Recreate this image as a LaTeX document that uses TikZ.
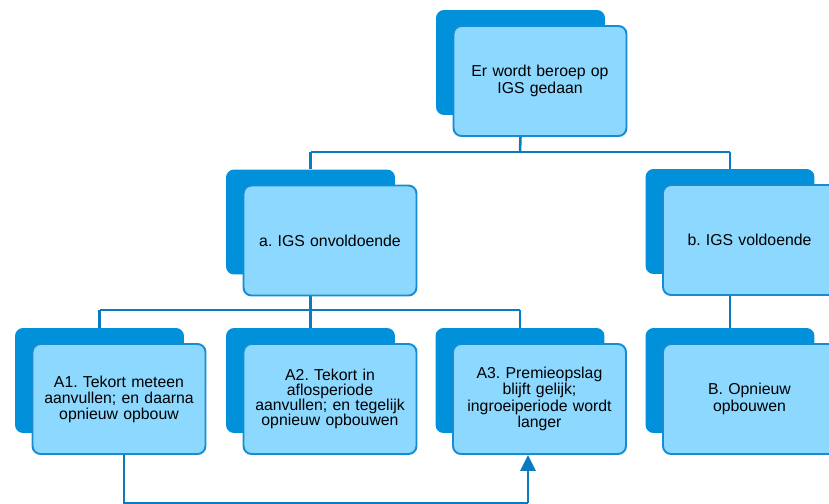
\documentclass[tikz,border=0pt]{standalone}
\usepackage{fontspec}
\setmainfont{Liberation Sans}
\frenchspacing
\usetikzlibrary{calc,positioning,backgrounds,arrows.meta}
\definecolor{backblue}{RGB}{0,145,218}
\definecolor{frontblue}{RGB}{140,216,255}
\definecolor{edgeblue}{RGB}{22,140,212}
\definecolor{lineblue}{RGB}{12,122,192}
\tikzset{
  backbox/.style={fill=backblue, rounded corners=0.16cm, minimum width=3.38cm, minimum height=2.1cm, inner sep=0pt},
  frontbox/.style={draw=edgeblue, fill=frontblue, line width=1.1pt, rounded corners=0.16cm, minimum width=3.46cm, minimum height=2.2cm, inner sep=0pt, align=center, text width=3.3cm, font=\fontsize{9}{9.5}\selectfont},
  link/.style={draw=lineblue, line width=1.45pt}
}

\begin{document}
\begin{tikzpicture}[x=0.02cm,y=-0.02cm]
\useasboundingbox (0,0) rectangle (829,504);
% back boxes
\node[backbox] (top) at (520.5,62.5) {};
\node[backbox] (a) at (310.5,222) {};
\node[backbox] (b) at (730,221.5) {};
\node[backbox] (A1) at (99.5,380.5) {};
\node[backbox] (A2) at (310.5,380.5) {};
\node[backbox] (A3) at (520,380.5) {};
\node[backbox] (B) at (730,380.5) {};
% front boxes
\node[frontbox, font=\fontsize{9}{10}\selectfont] (topf) at ($(top)+(19.5,18.5)$) {Er wordt beroep op\\IGS gedaan};
\node[frontbox] (af) at ($(a)+(19.5,18.5)$) {a. IGS onvoldoende};
\node[frontbox] (bf) at ($(b)+(19.5,18.5)$) {b. IGS voldoende};
\node[frontbox, font=\fontsize{9}{9.1}\selectfont] (A1f) at ($(A1)+(19.5,18.5)$) {A1. Tekort meteen\\aanvullen; en daarna\\opnieuw opbouw};
\node[frontbox, font=\fontsize{9}{8.5}\selectfont] (A2f) at ($(A2)+(19.5,18.5)$) {A2. Tekort in\\aflosperiode\\aanvullen; en tegelijk\\opnieuw opbouwen};
\node[frontbox, font=\fontsize{9}{8.2}\selectfont] (A3f) at ($(A3)+(19.5,18.5)$) {A3. Premieopslag\\blijft gelijk;\\ingroeiperiode wordt\\langer};
\node[frontbox, font=\fontsize{9}{10}\selectfont] (Bf) at ($(B)+(19.5,18.5)$) {B. Opnieuw\\opbouwen};
% connectors
\coordinate (j1) at (520,152);
\coordinate (j2) at (310.5,310);
\coordinate (j3) at (124,503);
\coordinate (j4) at (528,503);
\begin{scope}[on background layer]
\draw[link] (topf.south -| top) -- (j1);
\draw[link] (j1 -| a) -- (j1 -| b);
\draw[link] (j1 -| a) -- (a.north);
\draw[link] (j1 -| b) -- (b.north);
\draw[link] (af.south -| a) -- (j2);
\draw[link] (j2 -| A1) -- (j2 -| A3);
\foreach \n in {A1,A2,A3}
  \draw[link] (j2 -| \n) -- (\n.north);
\draw[link] (bf.south -| B) -- (B.north);
\end{scope}
\draw[link] (A1f.south -| j3) -- (j3) -- (j4);
\draw[link, -{Triangle[length=9pt,width=8.5pt]}] (j4) -- (A3f.south -| j4);
\end{tikzpicture}
\end{document}
